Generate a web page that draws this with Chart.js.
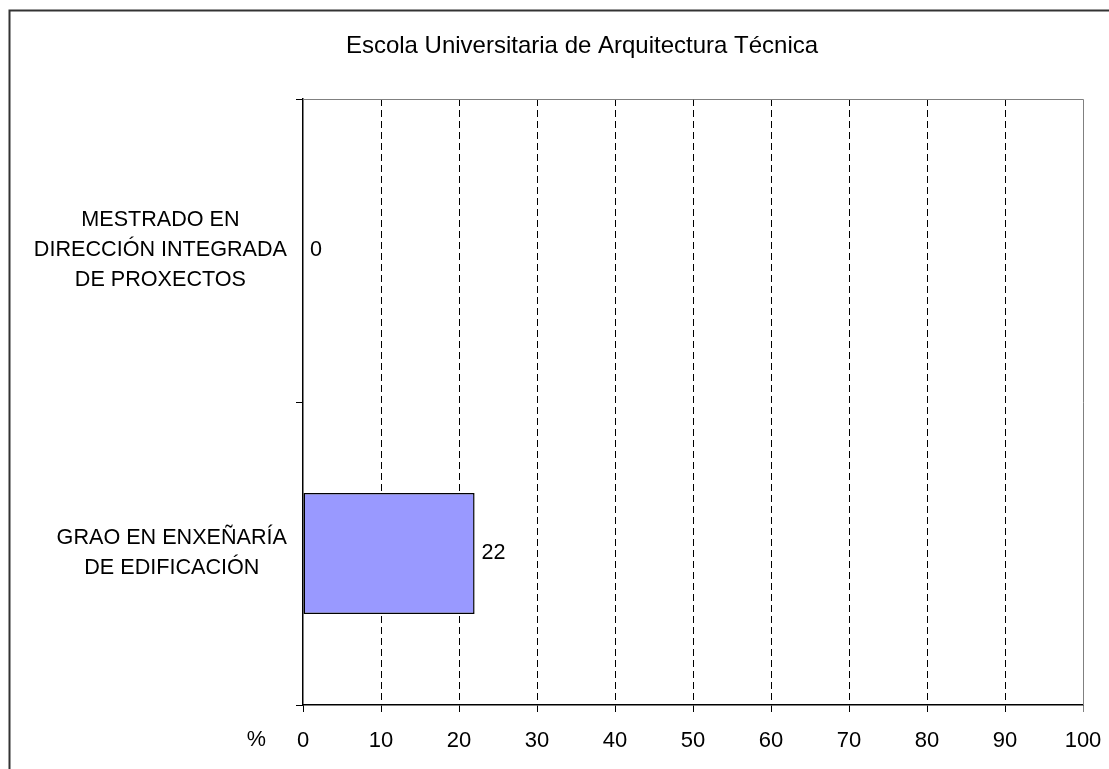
<!DOCTYPE html>
<html>
<head>
<meta charset="utf-8">
<title>Escola Universitaria de Arquitectura Técnica</title>
<script src="https://cdn.jsdelivr.net/npm/chart.js@4"></script>
<style>
    body { margin: 0; background: #ffffff; }
    #grafico { width: 1109px; height: 769px; }
</style>
</head>
<body>
<div id="grafico">
    <canvas id="myChartTitulacions"></canvas>
</div>
<script>
// dados
var titulo = 'Escola Universitaria de Arquitectura Técnica'
var categorias = [
    ['MESTRADO EN', 'DIRECCIÓN INTEGRADA', 'DE PROXECTOS'],
    ['GRAO EN ENXEÑARÍA', 'DE EDIFICACIÓN']
]
var valores = [0, 22]
var eixoMin = 0
var eixoMax = 100
var passo = 10
var unidade = '%'

var fonte = '"Liberation Sans", Arial, sans-serif'

// moldura, título, rótulos das categorias e valores
const extras = {
    id: 'extras',
    afterDraw(chart) {
        const ctx = chart.ctx
        const area = chart.chartArea
        const y = chart.scales.y
        const x = chart.scales.x

        ctx.save()

        // moldura externa (cortada à direita e em baixo)
        ctx.strokeStyle = '#333333'
        ctx.lineWidth = 2
        ctx.beginPath()
        ctx.moveTo(9.5, 769)
        ctx.lineTo(9.5, 10.5)
        ctx.lineTo(1109, 10.5)
        ctx.stroke()

        // bordas cinza do topo e direita da área
        ctx.strokeStyle = '#808080'
        ctx.lineWidth = 1
        ctx.beginPath()
        ctx.moveTo(area.left, area.top + 0.5)
        ctx.lineTo(area.right + 0.5, area.top + 0.5)
        ctx.lineTo(area.right + 0.5, area.bottom)
        ctx.stroke()

        ctx.fillStyle = '#000000'
        ctx.textBaseline = 'middle'

        // título
        ctx.font = '24px ' + fonte
        ctx.textAlign = 'center'
        ctx.fillText(titulo, 582, 46)

        ctx.font = '21.6px ' + fonte

        // unidade
        ctx.textAlign = 'right'
        ctx.fillText(unidade, 266, x.top + 35)

        // rótulos das categorias: bloco alinhado à direita, linhas centradas
        for (let i = 0; i < categorias.length; i++) {
            var linhas = categorias[i]
            var largura = 0
            for (let j = 0; j < linhas.length; j++) {
                largura = Math.max(largura, ctx.measureText(linhas[j]).width)
            }
            var centroX = 287 - largura / 2
            var centroY = y.getPixelForValue(i)
            var altura = 30
            ctx.textAlign = 'center'
            for (let j = 0; j < linhas.length; j++) {
                ctx.fillText(linhas[j], centroX, centroY + (j - (linhas.length - 1) / 2) * altura)
            }
        }

        // valores ao lado das barras
        var meta = chart.getDatasetMeta(0)
        ctx.textAlign = 'left'
        for (let i = 0; i < meta.data.length; i++) {
            var barra = meta.data[i]
            ctx.fillText(String(valores[i]), barra.x + 7, barra.y)
        }

        ctx.restore()
    }
}

const dataTitulacions = {
    labels: categorias,
    datasets: [{
        data: valores,
        backgroundColor: '#9999FF',
        borderColor: '#000000',
        borderWidth: 1.5,
        borderSkipped: false,
        barPercentage: 0.4,
        categoryPercentage: 1
    }]
}

const configTitulacions = {
    type: 'bar',
    data: dataTitulacions,
    options: {
        indexAxis: 'y',
        responsive: true,
        maintainAspectRatio: false,
        animation: false,
        layout: {
            padding: { top: 99, right: 26, bottom: 0, left: 0 }
        },
        plugins: {
            legend: { display: false },
            title: { display: false },
            tooltip: { enabled: false }
        },
        scales: {
            x: {
                min: eixoMin,
                max: eixoMax,
                ticks: {
                    stepSize: passo,
                    color: '#000000',
                    padding: 16,
                    font: { family: fonte, size: 22 }
                },
                grid: {
                    color: function (c) {
                        if (c.index === 0 || c.tick.value === eixoMax) return 'rgba(0,0,0,0)'
                        return '#000000'
                    },
                    tickColor: function (c) {
                        return c.tick && c.tick.value === eixoMax ? '#808080' : '#000000'
                    },
                    tickLength: 7,
                    lineWidth: 1
                },
                border: { display: true, color: '#000000', width: 1.5, dash: [7, 4] },
                afterFit: function (scale) {
                    scale.height = 64
                    scale.paddingLeft = 0
                    scale.paddingRight = 0
                }
            },
            y: {
                ticks: {
                    color: 'rgba(0,0,0,0)',
                    font: { family: fonte, size: 22 }
                },
                grid: {
                    color: 'rgba(0,0,0,0)',
                    tickColor: '#000000',
                    tickLength: 7,
                    offset: true
                },
                border: { display: true, color: '#000000', width: 1.5 },
                afterFit: function (scale) {
                    scale.width = 303
                    scale.paddingTop = 0
                    scale.paddingBottom = 0
                }
            }
        }
    },
    plugins: [extras]
}

const myChartTitulacions = new Chart(
    document.getElementById('myChartTitulacions'),
    configTitulacions
)
</script>
</body>
</html>
